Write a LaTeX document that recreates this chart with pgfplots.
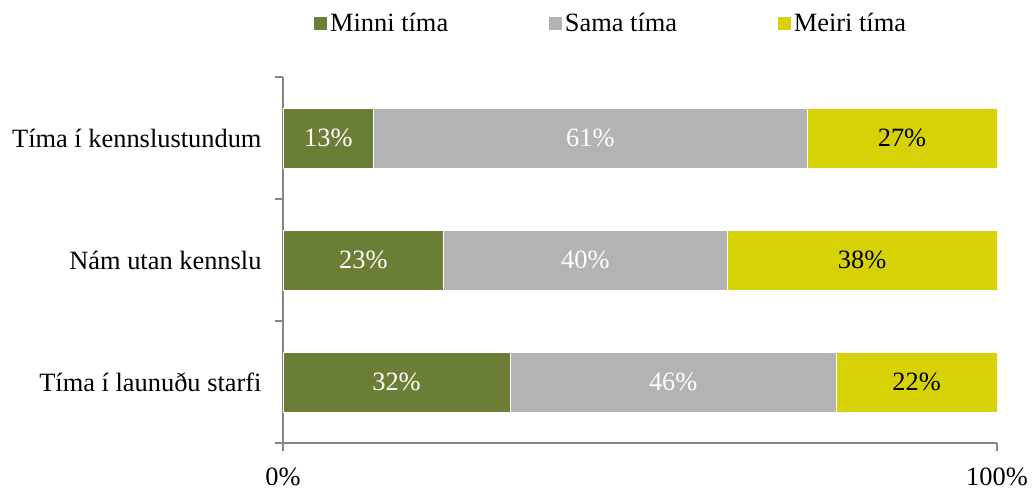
\documentclass[border=0pt]{standalone}
\usepackage{pgfplots}
\pgfplotsset{compat=1.18}
\usepackage{fontspec}
\setmainfont{Liberation Serif}
\definecolor{cgreen}{RGB}{106,127,53}
\definecolor{cgray}{RGB}{179,179,179}
\definecolor{cyellow}{RGB}{215,209,8}
\definecolor{caxis}{RGB}{134,134,134}
\newcommand{\ff}{\fontsize{26.5}{31}\selectfont}
\begin{document}
\begin{tikzpicture}[font=\ff]
\pgfplotsset{
  base/.style={scale only axis, width=714bp, height=366bp,
    xmin=0, xmax=100, ymin=-0.5, ymax=2.5, at={(0,0)}, anchor=south west}
}
\begin{axis}[base, xbar stacked, bar width=0.49,
  axis x line*=bottom, axis y line*=left,
  axis line style={caxis, line width=1.2pt},
  tick style={caxis, line width=1.2pt}, tick align=outside, major tick length=8bp,
  xtick={0,100}, xticklabels={0\%,100\%},
  xticklabel style={yshift=-13bp},
  ytick={-0.5,0.5,1.5,2.5}, yticklabels={},
  extra y ticks={0,1,2},
  extra y tick labels={Tíma í launuðu starfi, Nám utan kennslu, Tíma í kennslustundum},
  extra y tick style={major tick length=0pt, yticklabel style={xshift=-18bp}},
  tick label style={font=\ff},
  legend style={draw=none, font=\ff, legend columns=3, at={(0.459,1.1464)}, anchor=center,
    /tikz/every even column/.append style={column sep=97bp},
    nodes={inner sep=2.5bp}},
  legend image code/.code={\fill[#1] (0bp,-7bp) rectangle (14bp,7bp);},
]
\addplot[fill=cgreen, draw=white, line width=0.75pt] coordinates {(31.8,0) (22.5,1) (12.7,2)};
\addplot[fill=cgray, draw=white, line width=0.75pt] coordinates {(45.7,0) (39.7,1) (60.7,2)};
\addplot[fill=cyellow, draw=white, line width=0.75pt] coordinates {(22.5,0) (37.8,1) (26.6,2)};
\legend{Minni tíma, Sama tíma, Meiri tíma}
\end{axis}
\begin{axis}[base, hide axis]
\addplot[only marks, mark=text, text mark={},
  nodes near coords, point meta=explicit symbolic,
  every node near coord/.append style={anchor=center, text=white, font=\ff}]
  coordinates {(15.9,0) [32\%] (11.25,1) [23\%] (6.35,2) [13\%]
               (54.65,0) [46\%] (42.35,1) [40\%] (43.05,2) [61\%]};
\addplot[only marks, mark=text, text mark={},
  nodes near coords, point meta=explicit symbolic,
  every node near coord/.append style={anchor=center, text=black, font=\ff}]
  coordinates {(88.75,0) [22\%] (81.1,1) [38\%] (86.7,2) [27\%]};
\end{axis}
\pgfresetboundingbox
\path (-283bp,-46bp) rectangle (750bp,443bp);
\end{tikzpicture}
\end{document}
